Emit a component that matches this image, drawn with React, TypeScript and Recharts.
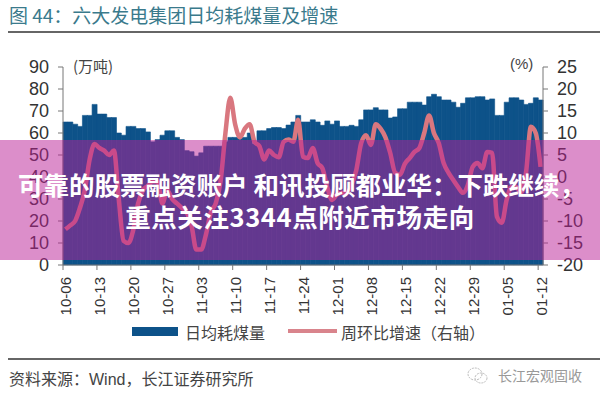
import { Bar, ComposedChart, Legend, Line, XAxis, YAxis } from 'recharts'

const CJK = '"Noto Sans CJK SC", "Liberation Sans", sans-serif'
const LATIN = '"Liberation Sans", Arial, sans-serif'

const DATES = [
  '10-06', '10-07', '10-08', '10-09', '10-10', '10-11', '10-12', '10-13', '10-14', '10-15', '10-16', '10-17', '10-18',
  '10-19', '10-20', '10-21', '10-22', '10-23', '10-24', '10-25', '10-26', '10-27', '10-28', '10-29', '10-30', '10-31',
  '11-01', '11-02', '11-03', '11-04', '11-05', '11-06', '11-07', '11-08', '11-09', '11-10', '11-11', '11-12', '11-13',
  '11-14', '11-15', '11-16', '11-17', '11-18', '11-19', '11-20', '11-21', '11-22', '11-23', '11-24', '11-25', '11-26',
  '11-27', '11-28', '11-29', '11-30', '12-01', '12-02', '12-03', '12-04', '12-05', '12-06', '12-07', '12-08', '12-09',
  '12-10', '12-11', '12-12', '12-13', '12-14', '12-15', '12-16', '12-17', '12-18', '12-19', '12-20', '12-21', '12-22',
  '12-23', '12-24', '12-25', '12-26', '12-27', '12-28', '12-29', '12-30', '12-31', '01-01', '01-02', '01-03', '01-04',
  '01-05', '01-06', '01-07', '01-08', '01-09', '01-10', '01-11', '01-12',
]

const COAL = [
  65, 65, 64, 63, 68, 68, 73, 68.6, 68.6, 67, 67, 60, 59, 63, 63, 62, 62, 60.5, 56, 57,
  59, 61, 61, 58, 57, 52, 51.5, 49.5, 51, 54, 54, 54, 54, 56, 58, 58, 58.5, 58, 60, 55,
  61, 61, 62, 62.5, 62.5, 62, 63.6, 65, 68, 65, 65, 66, 65, 63.5, 65.5, 64, 65.5, 63, 63, 63.5,
  63, 66, 70.5, 70.5, 71.5, 70.5, 70.5, 66.8, 67.3, 71, 71, 74, 74, 74, 72.7, 76.5, 77.6, 76.5, 75, 75,
  74, 71.7, 73.5, 76, 76, 76.5, 76.5, 75, 75.5, 68, 68, 74, 76, 76, 75, 73, 73.5, 76, 75,
]

const GROWTH = [
  -11.9, -11, -10, -7, -3, 4, 7.5, 6.6, 6, 5, 6, -5, -14.5, -15, -12, -6, -3, -2, -1, -1,
  -6, -3, -5, -6, -7, -8, -11, -16.5, -16.5, -13, -8, -6, -1, 10, 18, 12, 9, 11, 12, 8,
  7, 4, 6, 5, 4.5, 8, 8.5, 8, 13, 4.6, 4.3, 6.6, 3.2, 2, -2.3, -5.2, -4, -3.6, -3.6, -1.8,
  1.6, 7.7, 9.5, 7.3, 12, 11, 9, 5.4, 1, 0.5, 3, 4.3, 5.7, 6.6, 10, 14, 10, 7.7, 3.2, 1,
  -0.7, -2.3, -3.6, -1.8, 2.3, 3.2, 2, 5.7, 5.5, -9, -10.4, -5.2, -2.3, -2.3, -3.6, 1, 11.4, 10, 2.3,
]

const LEFT_TICKS = [0, 10, 20, 30, 40, 50, 60, 70, 80, 90]
const RIGHT_TICKS = [-20, -15, -10, -5, 0, 5, 10, 15, 20, 25]

const data = DATES.map((date, i) => ({ date, coal: COAL[i], growth: GROWTH[i] }))

const BAND = 480 / DATES.length

// ticks sit on the band's left edge, labels stay centred on the band
function DateTick({ x, y, payload }: any) {
  return (
    <g>
      <line x1={x - BAND / 2} x2={x - BAND / 2} y1={y - 8} y2={y - 3} stroke="#777" />
      <text
        transform={`translate(${x + 0.5},${y + 4}) rotate(-90)`}
        textAnchor="end"
        dominantBaseline="central"
        fontSize={15}
        fontFamily={LATIN}
        fill="#333"
      >
        {payload.value}
      </text>
    </g>
  )
}

function ChartLegend() {
  const label = { position: 'absolute', top: 0, fontSize: 16, lineHeight: '24px', color: '#444', fontFamily: CJK, whiteSpace: 'nowrap' } as const
  return (
    <div style={{ position: 'relative', width: 600, height: 24 }}>
      <div style={{ position: 'absolute', left: 132, top: 7, width: 46, height: 9, background: '#0d5289' }} />
      <span style={{ ...label, left: 185 }}>日均耗煤量</span>
      <div style={{ position: 'absolute', left: 288, top: 9, width: 49, height: 4, background: '#d9848c' }} />
      <span style={{ ...label, left: 341 }}>周环比增速（右轴）</span>
    </div>
  )
}

export default function App() {
  return (
    <div style={{ position: 'absolute', left: 0, top: 0, width: 600, height: 400, background: '#fff', overflow: 'hidden' }}>
      <div style={{ position: 'absolute', left: 9, top: 1, fontSize: 19, lineHeight: '28px', color: '#3a7a8c', fontFamily: CJK, whiteSpace: 'nowrap' }}>
        图 44：六大发电集团日均耗煤量及增速
      </div>
      <div style={{ position: 'absolute', left: 8, top: 31, width: 592, height: 1.5, background: '#666' }} />

      <ComposedChart
        width={600}
        height={400}
        data={data}
        barCategoryGap={0}
        margin={{ top: 67, right: 7, bottom: 51, left: 8 }}
      >
        <XAxis
          dataKey="date"
          interval={6}
          tick={DateTick}
          tickLine={false}
          height={60}
          axisLine={{ stroke: '#777' }}
        />
        <YAxis
          yAxisId="left"
          width={55}
          domain={[0, 90]}
          ticks={LEFT_TICKS}
          interval={0}
          tick={{ fontSize: 18, fill: '#333', fontFamily: LATIN }}
          tickSize={5}
          tickMargin={9}
          stroke="#777"
        />
        <YAxis
          yAxisId="right"
          orientation="right"
          width={50}
          domain={[-20, 25]}
          ticks={RIGHT_TICKS}
          interval={0}
          tick={{ fontSize: 18, fill: '#333', fontFamily: LATIN }}
          tickSize={5}
          tickMargin={9}
          stroke="#777"
        />
        <Bar yAxisId="left" dataKey="coal" fill="#0d5289" stroke="#0d5289" strokeWidth={0.6} isAnimationActive={false} />
        <Line
          yAxisId="right"
          dataKey="growth"
          type="monotone"
          stroke="#d9777f"
          strokeWidth={4.5}
          dot={false}
          isAnimationActive={false}
        />
        <Legend
          verticalAlign="bottom"
          height={24}
          content={<ChartLegend />}
          wrapperStyle={{ left: 0, top: 320, bottom: 'auto', width: 600 }}
        />
      </ComposedChart>

      <div style={{ position: 'absolute', left: 73, top: 55, fontSize: 15, lineHeight: '22px', color: '#444', fontFamily: CJK }}>(万吨)</div>
      <div style={{ position: 'absolute', left: 510, top: 53, fontSize: 15, lineHeight: '22px', color: '#444', fontFamily: LATIN }}>(%)</div>

      <div style={{ position: 'absolute', left: 8, top: 358, width: 592, height: 2, background: '#666' }} />
      <div style={{ position: 'absolute', left: 9, top: 366, fontSize: 16, lineHeight: '24px', color: '#444', fontFamily: CJK, whiteSpace: 'nowrap' }}>
        资料来源：<span style={{ fontFamily: LATIN }}>Wind</span>，长江证券研究所
      </div>
      <svg style={{ position: 'absolute', left: 466, top: 366 }} width={24} height={20}>
        <ellipse cx={9} cy={8} rx={7} ry={6} fill="none" stroke="#bbb" strokeDasharray="2 1" />
        <ellipse cx={15} cy={12} rx={6} ry={5} fill="none" stroke="#bbb" strokeDasharray="2 1" />
      </svg>
      <div style={{ position: 'absolute', left: 498, top: 365, fontSize: 14, lineHeight: '20px', color: '#999', fontFamily: CJK, whiteSpace: 'nowrap' }}>
        长江宏观固收
      </div>

      <div style={{ position: 'absolute', left: 0, top: 140, width: 600, height: 120, background: 'rgba(185, 30, 150, 0.5)' }} />
      <div style={{ position: 'absolute', left: 0, top: 168, width: 600, textAlign: 'center', color: '#fff', fontWeight: 700, fontSize: 25.5, lineHeight: '32px', fontFamily: CJK, whiteSpace: 'nowrap' }}>
        <div style={{ paddingLeft: 3 }}>可靠的股票融资账户 和讯投顾都业华：下跌继续，</div>
        <div style={{ letterSpacing: 0.6 }}>重点关注3344点附近市场走向</div>
      </div>
    </div>
  )
}
